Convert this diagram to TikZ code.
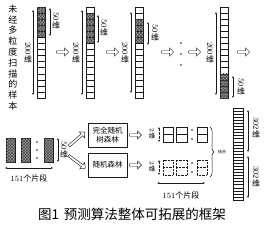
\documentclass[tikz,border=0pt]{standalone}
\usepackage{fontspec}
\usepackage{graphicx}
\usetikzlibrary{arrows.meta,positioning,shapes.arrows,patterns,decorations.pathreplacing}
\newfontfamily\zhfont{Noto Sans CJK SC}
\definecolor{ink}{HTML}{1A1A1A}
\definecolor{hatchgray}{HTML}{9A9A9A}
\tikzset{
  cellbox/.style={draw=ink,line width=0.4pt},
  hatchbox/.style={draw=ink,line width=0.4pt,fill=hatchgray,
                   postaction={pattern=crosshatch,pattern color=ink!80}},
  hollowarr/.style={single arrow,draw=ink,fill=white,line width=0.45pt,
                    minimum height=12pt,minimum width=8pt,
                    single arrow head extend=1.6pt,inner sep=0.5pt},
  dimarr/.style={{Latex[length=2pt,width=1.8pt]}-{Latex[length=2pt,width=1.8pt]},
                 line width=0.35pt,color=ink},
  dimlabel/.style={font=\fontsize{8}{8.5}\selectfont,inner sep=0pt,align=center},
  zhbox/.style={draw=ink,line width=0.6pt,fill=white,align=center,
                minimum width=39pt,minimum height=24pt,inner sep=1pt,
                font=\zhfont\fontsize{7.5}{9.5}\selectfont},
  zhtext/.style={font=\zhfont\fontsize{8}{9}\selectfont,inner sep=0pt},
  dotmark/.style={circle,fill=ink,inner sep=0pt,minimum size=1.8pt}
}
% one 200-dim column: #1 left x, #2 first hatched cell, #3 last hatched cell
\newcommand{\colbar}[3]{%
  \foreach \k in {0,...,14}{%
    \pgfmathsetmacro{\ytop}{7+\k*91/15}%
    \ifnum\k<#2 \def\cellsty{cellbox}\else
      \ifnum\k>#3 \def\cellsty{cellbox}\else\def\cellsty{hatchbox}\fi\fi
    \draw[\cellsty] (#1,\ytop) rectangle ++(8,91/15);
  }%
}
\newcommand{\dimtxt}[1]{\rotatebox{-90}{#1}\\{\zhfont 维}}

\begin{document}
\begin{tikzpicture}[x=1pt,y=-1pt,>=Latex]
  \useasboundingbox (0,0) rectangle (264,228);

  % source sample, written top to bottom
  \node[zhtext,font=\zhfont\fontsize{9}{10.8}\selectfont,align=center] (src) at (13,57.5)
    {未\\经\\多\\粒\\度\\扫\\描\\的\\样\\本};

  % sliding window over the 200-dim sample
  \colbar{37}{0}{4}
  \draw[dimarr] (33,10) -- (33,95);
  \node[dimlabel] (l1a) at (28,53) {\dimtxt{200}};
  \draw[dimarr] (50,8) -- (50,36);
  \node[dimlabel] (l1b) at (56,21) {\dimtxt{50}};
  \node[hollowarr] (a1) at (62,52) {};

  \colbar{86}{1}{5}
  \draw[dimarr] (82,10) -- (82,95);
  \node[dimlabel] (l2a) at (76,53) {\dimtxt{200}};
  \draw[dimarr] (98,15) -- (98,43);
  \node[dimlabel] (l2b) at (104,28) {\dimtxt{50}};
  \node[hollowarr] (a2) at (112,52) {};

  \colbar{135}{2}{5}
  \draw[dimarr] (131,12) -- (131,93);
  \node[dimlabel] (l3a) at (125,53) {\dimtxt{200}};
  \draw[dimarr] (148,22) -- (148,45);
  \node[dimlabel] (l3b) at (155,33) {\dimtxt{50}};
  \node[hollowarr] (a3) at (167,52) {};

  \node[dotmark] (d1) at (181,43) {};
  \node[dotmark] (d2) at (181,54) {};
  \node[dotmark] (d3) at (181,65) {};
  \node[hollowarr] (a4) at (194,52) {};

  \colbar{220}{11}{14}
  \draw[dimarr] (216,12) -- (216,95);
  \node[dimlabel] (l4a) at (210,53) {\dimtxt{200}};
  \draw[dimarr] (233,76) -- (233,98);
  \node[dimlabel] (l4b) at (241,87) {\dimtxt{50}};
  \node[hollowarr] (a5) at (243,52) {};

  % 151 fragments
  \draw[hatchbox] (6,138) rectangle (15,162);
  \draw[hatchbox] (21,138) rectangle (30,162);
  \draw[hatchbox] (44,138) rectangle (53,162);
  \node[dotmark] (e1) at (37,142) {};
  \node[dotmark] (e2) at (37,150) {};
  \node[dotmark] (e3) at (37,158) {};
  \draw[dimarr] (58,138) -- (58,162);
  \node[dimlabel] (l5) at (64,150) {\dimtxt{50}};
  \draw[dimarr] (5,168) -- (53,168);
  \node[zhtext] (n151a) at (29,178) {\rmfamily151\zhfont 个片段};

  % two forests
  \node[zhbox] (ert) at (107.5,135) {完全随机\\树森林};
  \node[zhbox] (rf) at (107.5,165) {随机森林};
  \node[hollowarr,minimum height=21pt,rotate=41] (up) at (76.5,139.5) {};
  \node[hollowarr,minimum height=21pt,rotate=-37] (dn) at (76.5,161.5) {};
  \node[hollowarr,right=2pt of ert] (ertarr) {};
  \node[hollowarr,right=2pt of rf] (rfarr) {};

  % class vectors
  \node[dimlabel,font=\fontsize{6.5}{7}\selectfont] (l6) at (152,134) {\dimtxt{2}};
  \draw[dimarr,densely dotted] (159,127) -- (159,142);
  \foreach \xa/\xb in {163/173,176/187,197/207}{
    \draw[cellbox] (\xa,127) rectangle (\xb,142);
    \draw[cellbox] (\xa,134.5) -- (\xb,134.5);
  }
  \node[dotmark,minimum size=1.6pt] (c1) at (192,130) {};
  \node[dotmark,minimum size=1.6pt] (c2) at (192,139) {};

  \node[dimlabel,font=\fontsize{6.5}{7}\selectfont] (l7) at (152,167) {\dimtxt{2}};
  \draw[dimarr,densely dotted] (159,160) -- (159,175);
  \foreach \xa/\xb in {163/173,176/187,197/207}{
    \draw[cellbox,densely dotted] (\xa,160) rectangle (\xb,175);
    \draw[cellbox,densely dotted] (\xa,167.5) -- (\xb,167.5);
  }
  \node[dotmark,minimum size=1.6pt] (c3) at (192,163) {};
  \node[dotmark,minimum size=1.6pt] (c4) at (192,172) {};
  \draw[dimarr] (157,183) -- (205,183);
  \node[zhtext] (n151b) at (181,195) {\rmfamily151\zhfont 个片段};

  \draw[decorate,decoration={brace,amplitude=4pt},line width=0.5pt,color=ink]
    (210,127) -- (210,177);
  \node[zhtext,font=\zhfont\fontsize{4}{4}\selectfont] (join) at (222,152) {结合};

  % concatenated vector
  \foreach \k in {0,...,29}{
    \draw[cellbox,line width=0.35pt] (233,108+\k*92/30) rectangle ++(10,92/30);
  }
  \draw[dimarr] (248,110) -- (248,152);
  \draw[dimarr] (248,156) -- (248,198);
  \node[dimlabel] (l8) at (256,128) {\dimtxt{302}};
  \node[dimlabel] (l9) at (256,177) {\dimtxt{302}};

  \node[font=\zhfont\fontsize{13.5}{14}\selectfont] (cap) at (132,214)
    {图1\hspace{5pt}预测算法整体可拓展的框架};
\end{tikzpicture}
\end{document}
